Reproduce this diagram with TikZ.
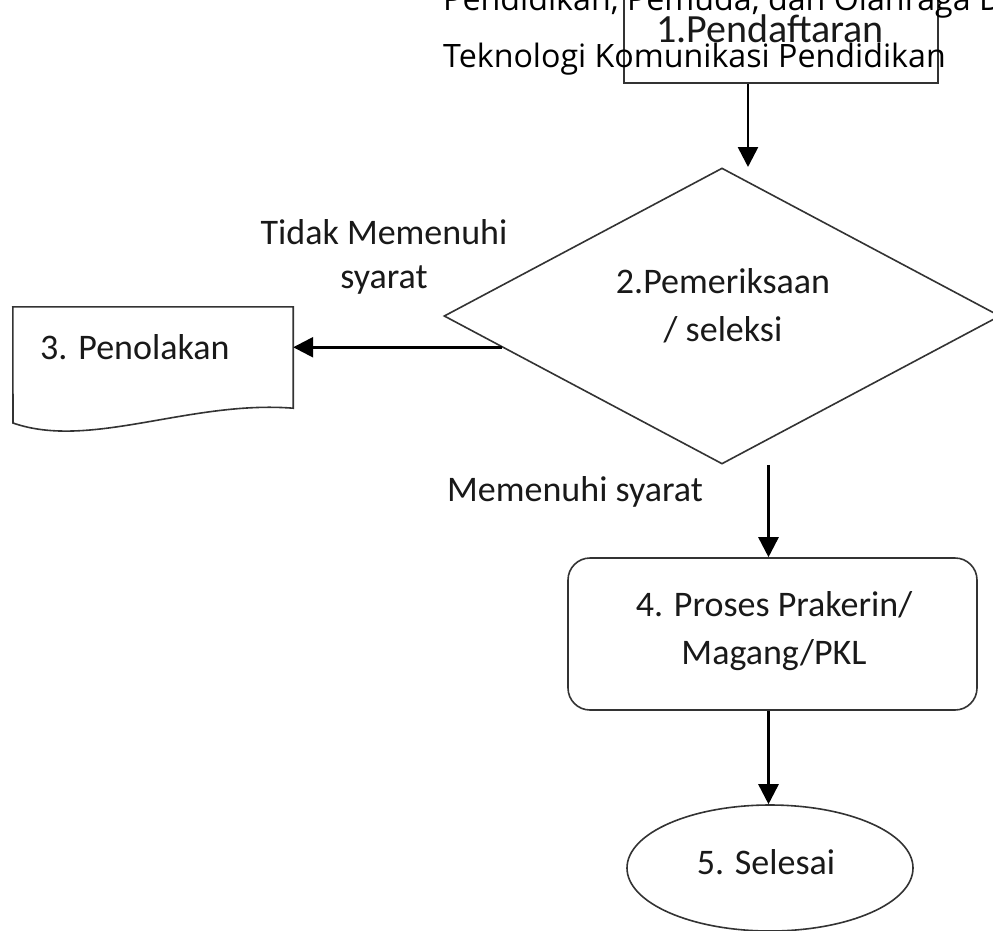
\documentclass[tikz,border=0pt]{standalone}
\usepackage{fontspec}
\setmainfont{Carlito}
\newfontfamily\osans{Open Sans}
\usetikzlibrary{shapes.geometric,arrows.meta,calc}
\begin{document}
\begin{tikzpicture}[x=1pt,y=-1pt,
  arr/.style={line width=2.6pt,-{Triangle[length=20pt,width=20pt]}},
  lbl/.style={font=\fontsize{36}{48}\selectfont, text=black!90, inner sep=0pt, align=center},
  hdr/.style={font=\osans\fontsize{32.2}{40}\selectfont, text=black, inner sep=0pt, anchor=base west},
  shp/.style={draw=black!80, line width=1.6pt}]
\useasboundingbox (0,0) rectangle (993,930);
\fill[white] (0,0) rectangle (993,930);
% 1. Pendaftaran
\node[shp, line width=2pt, minimum width=314pt, minimum height=112pt, inner sep=0pt] (b1) at (781,27) {};
\node[lbl, font=\fontsize{40}{48}\selectfont, anchor=base] (t1) at (770,42) {1.Pendaftaran};
% header text overlay
\node[hdr] (h1) at (443,10) {Pendidikan, Pemuda, dan Olahraga DIY};
\node[hdr] (h2) at (443,67) {Teknologi Komunikasi Pendidikan};
% 2. diamond
\node[shp, shape=diamond, minimum width=556pt, minimum height=296pt, inner sep=0pt] (d2) at (722,316) {};
\node[lbl] (t2) at (723,306) {2.Pemeriksaan\\/ seleksi};
% 3. document
\node[minimum width=280pt, minimum height=101pt, inner sep=0pt] (p3) at (153,357.5) {};
\draw[shp] (p3.north west) -- (p3.north east) -- (p3.south east)
  .. controls (190,400) and (90,450) .. (13,423) -- cycle;
\node[lbl, anchor=west] (t3) at (40,347) {3. Penolakan};
% 4. process
\node[shp, rounded corners=22pt, minimum width=409pt, minimum height=152pt, inner sep=0pt] (b4) at (772.5,634) {};
\node[lbl] (t4) at (774,631) {4. Proses Prakerin/\\Magang/PKL};
% 5. end
\node[shp, shape=ellipse, minimum width=286pt, minimum height=126pt, inner sep=0pt] (e5) at (770,868) {};
\node[lbl] (t5) at (766,862) {5. Selesai};
% labels
\node[lbl] (l1) at (384,232) {Tidak Memenuhi};
\node[lbl] (l2) at (384,280) {syarat};
\node[lbl] (l3) at (575,492) {Memenuhi syarat};
% connectors
\coordinate (s1) at ([xshift=-33pt]b1.south);
\draw[arr] (s1) -- ++(0,83);
\coordinate (s2) at ($(d2.west)!0.21!(d2.south)$);
\draw[arr] (s2) -- (s2 -| p3.east);
\coordinate (s3) at ([xshift=-4pt]b4.north |- d2.south);
\draw[arr] (s3) -- (s3 |- b4.north);
\coordinate (s4) at ([xshift=-4pt]b4.south);
\draw[arr] (s4) -- (s4 |- e5.north);
\end{tikzpicture}
\end{document}
